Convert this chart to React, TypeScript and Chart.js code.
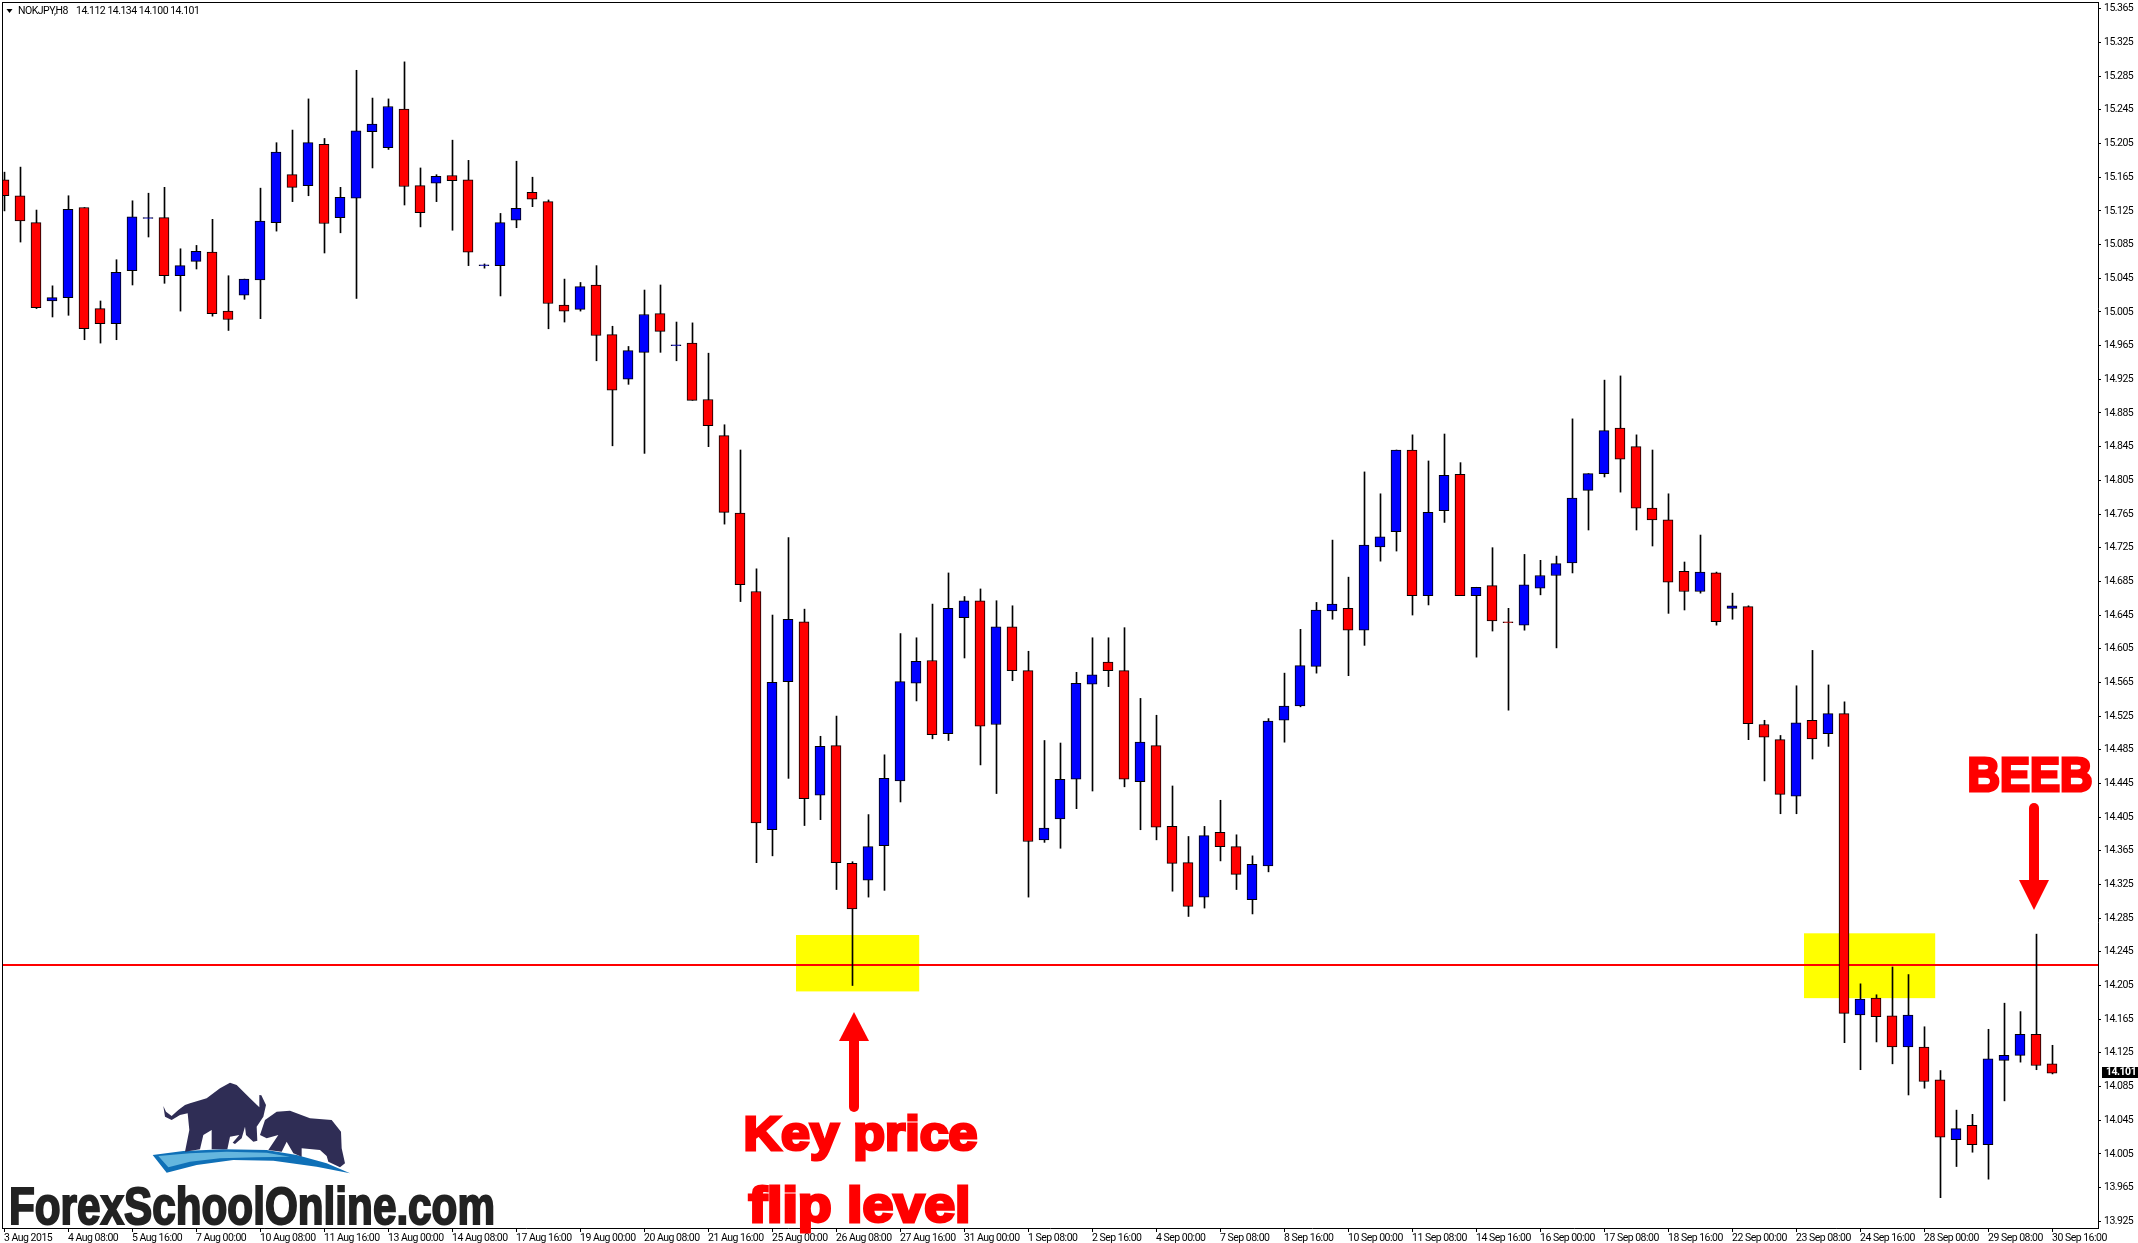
import React, { useEffect, useRef } from "react";
import { Chart, registerables } from "chart.js";

Chart.register(...registerables);

const symbol = "NOKJPY,H8";
const quote = "14.112 14.134 14.100 14.101";

const opens = [15.162,15.143,15.111,15.018,15.022,15.129,15.009,14.991,15.054,15.116,15.117,15.048,15.065,15.076,15.006,15.025,15.043,15.111,15.168,15.155,15.204,15.117,15.140,15.219,15.200,15.246,15.155,15.158,15.167,15.162,15.060,15.060,15.114,15.147,15.136,15.013,15.008,15.037,14.978,14.925,14.957,15.003,14.965,14.968,14.901,14.858,14.766,14.673,14.390,14.566,14.637,14.431,14.490,14.350,14.330,14.371,14.448,14.564,14.591,14.504,14.642,14.662,14.515,14.631,14.579,14.378,14.403,14.450,14.563,14.589,14.579,14.447,14.490,14.394,14.351,14.310,14.387,14.370,14.307,14.347,14.520,14.537,14.584,14.650,14.653,14.627,14.726,14.744,14.841,14.668,14.769,14.812,14.668,14.680,14.637,14.633,14.677,14.692,14.707,14.793,14.813,14.867,14.845,14.772,14.758,14.697,14.673,14.695,14.653,14.655,14.515,14.497,14.430,14.520,14.504,14.528,14.170,14.190,14.169,14.132,14.132,14.093,14.022,14.039,14.016,14.116,14.122,14.147,14.112];
const closes = [15.143,15.113,15.010,15.022,15.127,14.985,14.991,15.052,15.118,15.117,15.048,15.060,15.077,15.003,14.996,15.044,15.113,15.195,15.153,15.206,15.110,15.141,15.220,15.228,15.249,15.154,15.123,15.166,15.161,15.076,15.061,15.111,15.128,15.139,15.015,15.006,15.035,14.977,14.912,14.959,15.002,14.982,14.966,14.900,14.870,14.767,14.681,14.398,14.565,14.640,14.427,14.489,14.351,14.296,14.370,14.451,14.566,14.590,14.503,14.653,14.662,14.513,14.631,14.579,14.376,14.392,14.450,14.564,14.574,14.579,14.450,14.494,14.393,14.350,14.299,14.383,14.370,14.337,14.349,14.519,14.537,14.585,14.651,14.658,14.627,14.728,14.738,14.841,14.668,14.767,14.811,14.668,14.678,14.638,14.636,14.681,14.692,14.706,14.784,14.813,14.864,14.830,14.772,14.758,14.684,14.673,14.696,14.637,14.656,14.516,14.500,14.432,14.517,14.498,14.528,14.172,14.189,14.168,14.132,14.170,14.091,14.025,14.035,14.016,14.118,14.122,14.147,14.110,14.101];
const highs = [15.171,15.177,15.126,15.036,15.143,15.129,15.018,15.067,15.137,15.146,15.153,15.080,15.084,15.115,15.048,15.044,15.152,15.206,15.221,15.258,15.211,15.153,15.292,15.259,15.258,15.302,15.176,15.168,15.209,15.185,15.062,15.122,15.184,15.165,15.138,15.044,15.040,15.060,14.988,14.964,15.031,15.037,14.993,14.992,14.956,14.871,14.841,14.700,14.645,14.737,14.652,14.501,14.525,14.352,14.408,14.479,14.623,14.618,14.658,14.695,14.667,14.676,14.662,14.656,14.602,14.496,14.493,14.577,14.618,14.618,14.630,14.546,14.526,14.442,14.382,14.394,14.425,14.384,14.359,14.522,14.576,14.628,14.660,14.734,14.690,14.815,14.789,14.841,14.859,14.828,14.860,14.826,14.678,14.725,14.653,14.717,14.710,14.715,14.878,14.813,14.924,14.929,14.859,14.841,14.789,14.708,14.740,14.696,14.671,14.656,14.520,14.502,14.561,14.603,14.562,14.542,14.207,14.194,14.227,14.218,14.156,14.104,14.057,14.052,14.153,14.184,14.174,14.266,14.134];
const lows = [15.125,15.088,15.009,14.999,15.001,14.972,14.968,14.972,15.037,15.094,15.039,15.006,15.056,15.000,14.983,15.020,14.997,15.101,15.136,15.143,15.075,15.099,15.021,15.176,15.198,15.132,15.106,15.136,15.102,15.060,15.057,15.024,15.105,15.130,14.985,14.993,15.006,14.947,14.846,14.919,14.837,14.957,14.947,14.900,14.845,14.753,14.661,14.351,14.359,14.451,14.395,14.402,14.319,14.205,14.310,14.318,14.423,14.543,14.498,14.496,14.594,14.467,14.433,14.567,14.310,14.375,14.368,14.415,14.436,14.560,14.441,14.390,14.378,14.317,14.287,14.297,14.353,14.319,14.290,14.340,14.494,14.536,14.576,14.640,14.573,14.609,14.709,14.721,14.645,14.657,14.755,14.668,14.595,14.626,14.532,14.627,14.669,14.606,14.695,14.746,14.809,14.791,14.746,14.727,14.647,14.651,14.671,14.633,14.640,14.497,14.448,14.409,14.409,14.474,14.489,14.137,14.105,14.138,14.112,14.075,14.083,13.953,13.990,14.007,13.975,14.068,14.114,14.105,14.100];

const timeLabels = ["3 Aug 2015","4 Aug 08:00","5 Aug 16:00","7 Aug 00:00","10 Aug 08:00","11 Aug 16:00","13 Aug 00:00","14 Aug 08:00","17 Aug 16:00","19 Aug 00:00","20 Aug 08:00","21 Aug 16:00","25 Aug 00:00","26 Aug 08:00","27 Aug 16:00","31 Aug 00:00","1 Sep 08:00","2 Sep 16:00","4 Sep 00:00","7 Sep 08:00","8 Sep 16:00","10 Sep 00:00","11 Sep 08:00","14 Sep 16:00","16 Sep 00:00","17 Sep 08:00","18 Sep 16:00","22 Sep 00:00","23 Sep 08:00","24 Sep 16:00","28 Sep 00:00","29 Sep 08:00","30 Sep 16:00"];
const priceTicks = [15.365,15.325,15.285,15.245,15.205,15.165,15.125,15.085,15.045,15.005,14.965,14.925,14.885,14.845,14.805,14.765,14.725,14.685,14.645,14.605,14.565,14.525,14.485,14.445,14.405,14.365,14.325,14.285,14.245,14.205,14.165,14.125,14.085,14.045,14.005,13.965,13.925];

const flipLevel = 14.229;
const lastPrice = 14.101;
const zoneA = { from: 49.5, to: 57.2, high: 14.265, low: 14.198 };
const zoneB = { from: 112.5, to: 120.7, high: 14.267, low: 14.190 };

const bull = [[70,108],[78,125],[95,138],[115,120],[135,105],[150,100],[200,85],[240,55],[270,38],[290,45],[330,85],[358,112],[358,75],[364,76],[378,105],[370,140],[350,170],[352,212],[340,215],[318,195],[315,170],[305,205],[285,222],[278,218],[298,195],[270,200],[262,238],[215,238],[215,180],[190,195],[180,238],[135,245],[148,180],[143,130],[120,135],[95,150],[75,140]];
const bear = [[360,195],[375,150],[410,125],[450,122],[510,145],[575,150],[603,185],[605,235],[615,280],[600,292],[565,275],[560,258],[540,240],[485,235],[485,260],[460,250],[440,215],[425,245],[385,240],[415,195],[380,205]];
const swooshOuter = [[38,255],[130,243],[250,238],[380,240],[470,255],[560,280],[630,310],[530,290],[400,272],[280,270],[170,285],[80,308]];
const swooshInner = [[55,258],[150,250],[260,245],[380,248],[450,260],[350,262],[240,265],[150,275],[85,292]];

const uiFont = '"Roboto", "Liberation Sans", sans-serif';
const uiSpacing = "-0.5px";

function fitText(ctx: any, text: string, left: number, right: number, baseline: number, capH: number, color: string, stroke: number) {
  ctx.save();
  ctx.letterSpacing = "0px";
  const size = (capH - stroke) / 0.72;
  ctx.font = `bold ${size}px "Liberation Sans", sans-serif`;
  ctx.textAlign = "left";
  ctx.textBaseline = "alphabetic";
  const w = ctx.measureText(text).width;
  ctx.translate(left + stroke / 2, baseline - stroke / 2);
  ctx.scale((right - left - stroke) / w, 1);
  ctx.fillStyle = color;
  ctx.strokeStyle = color;
  ctx.lineWidth = stroke;
  ctx.lineJoin = "miter";
  ctx.miterLimit = 3;
  ctx.fillText(text, 0, 0);
  ctx.strokeText(text, 0, 0);
  ctx.restore();
}

function poly(ctx: any, pts: number[][], color: string) {
  ctx.beginPath();
  pts.forEach(([a, b], i) => {
    const px = 140 + a / 3;
    const py = 1070 + b / 3;
    if (i === 0) ctx.moveTo(px, py);
    else ctx.lineTo(px, py);
  });
  ctx.closePath();
  ctx.fillStyle = color;
  ctx.fill();
}

function arrow(ctx: any, cx: number, tip: number, base: number, tail: number) {
  ctx.fillStyle = "#ff0000";
  ctx.beginPath();
  ctx.moveTo(cx, tip);
  ctx.lineTo(cx - 15, base);
  ctx.lineTo(cx + 15, base);
  ctx.closePath();
  ctx.fill();
  const top = Math.min(base, tail);
  const h = Math.abs(tail - base);
  ctx.fillRect(cx - 5, top, 10, h);
  ctx.beginPath();
  ctx.arc(cx, tail, 5, 0, Math.PI * 2);
  ctx.fill();
}

const noPadding = (s: any) => {
  s.paddingTop = 0;
  s.paddingBottom = 0;
  s.paddingLeft = 0;
  s.paddingRight = 0;
};

const decorations = {
  id: "decorations",
  beforeDraw(chart: any) {
    const { ctx, width, height } = chart;
    ctx.letterSpacing = uiSpacing;
    ctx.save();
    ctx.fillStyle = "#fff";
    ctx.fillRect(0, 0, width, height);
    ctx.restore();
  },
  beforeDatasetsDraw(chart: any) {
    const { ctx, chartArea, scales } = chart;
    const { x, y } = scales;
    ctx.save();
    ctx.fillStyle = "#ffff00";
    [zoneA, zoneB].forEach((z) => {
      const l = x.getPixelForValue(z.from);
      const r = x.getPixelForValue(z.to);
      const t = y.getPixelForValue(z.high);
      const b = y.getPixelForValue(z.low);
      ctx.fillRect(l, t, r - l, b - t);
    });
    ctx.fillStyle = "#ff0000";
    ctx.fillRect(chartArea.left, Math.round(y.getPixelForValue(flipLevel)) - 1, chartArea.right - chartArea.left, 2);
    ctx.restore();
  },
  afterDraw(chart: any) {
    const { ctx, chartArea, scales } = chart;
    const { y } = scales;
    ctx.save();
    // frame
    ctx.fillStyle = "#000";
    ctx.fillRect(chartArea.left, chartArea.top, chartArea.right - chartArea.left + 1, 1);
    ctx.fillRect(chartArea.left, chartArea.top, 1, chartArea.bottom - chartArea.top + 1);
    // header
    ctx.beginPath();
    ctx.moveTo(6.5, 9);
    ctx.lineTo(12.5, 9);
    ctx.lineTo(9.5, 13);
    ctx.closePath();
    ctx.fill();
    ctx.font = `10.5px ${uiFont}`;
    ctx.textBaseline = "middle";
    ctx.textAlign = "left";
    ctx.fillText(symbol, 18, 11);
    ctx.fillText(quote, 76, 11);
    // current price tag
    const py = y.getPixelForValue(lastPrice);
    ctx.fillStyle = "#000";
    ctx.fillRect(2102, Math.round(py) - 6, 36, 11);
    ctx.fillStyle = "#fff";
    ctx.font = `bold 10.5px ${uiFont}`;
    ctx.fillText(lastPrice.toFixed(3), 2106, Math.round(py) - 0.5);
    // arrows
    arrow(ctx, 854, 1012, 1041, 1107);
    arrow(ctx, 2034, 910, 880, 808);
    // notes
    fitText(ctx, "BEEB", 1966, 2094, 792, 37, "#ff0000", 3);
    fitText(ctx, "Key price", 742, 979, 1151, 38, "#ff0000", 3);
    fitText(ctx, "flip level", 747, 972, 1223, 39, "#ff0000", 3);
    // logo
    poly(ctx, swooshOuter, "#0f70b7");
    poly(ctx, swooshInner, "#64b6de");
    poly(ctx, bull, "#2f2d55");
    poly(ctx, bear, "#2f2d55");
    fitText(ctx, "ForexSchoolOnline.com", 8, 496, 1225, 39, "#222222", 2);
    ctx.restore();
  },
};

export default function App() {
  const ref = useRef<HTMLCanvasElement | null>(null);
  useEffect(() => {
    document.body.style.margin = "0";
    document.body.style.background = "#fff";
    const idx = opens.map((_, i) => i);
    const chart = new Chart(ref.current as HTMLCanvasElement, {
      type: "bar",
      data: {
        datasets: [
          {
            label: "Body",
            order: 1,
            grouped: false,
            barThickness: 10,
            borderWidth: 1,
            borderColor: "#000000",
            borderSkipped: false,
            backgroundColor: idx.map((i) => (closes[i] < opens[i] ? "#ff0000" : "#0000ff")),
            data: idx.map((i) => ({ x: i, y: [opens[i], closes[i]] })),
          },
          {
            label: "Range",
            order: 2,
            grouped: false,
            barThickness: 1,
            borderWidth: 0,
            backgroundColor: "#000000",
            data: idx.map((i) => ({ x: i + 0.03125, y: [lows[i], highs[i]] })),
          },
        ],
      } as any,
      options: {
        responsive: false,
        devicePixelRatio: 1,
        animation: false,
        events: [],
        layout: { padding: { left: 2, top: 2, right: 0, bottom: 0 } },
        plugins: { legend: { display: false }, tooltip: { enabled: false }, title: { display: false } },
        scales: {
          x: {
            type: "linear",
            position: "bottom",
            offset: false,
            min: -0.125,
            max: 130.875,
            afterBuildTicks: (s: any) => {
              s.ticks = timeLabels.map((_, i) => ({ value: i * 4 }));
            },
            afterFit: (s: any) => {
              s.height = 15;
              noPadding(s);
            },
            border: { display: true, color: "#000", width: 1 },
            grid: { display: true, offset: false, drawOnChartArea: false, drawTicks: true, tickLength: 4, color: "#000" },
            ticks: {
              autoSkip: false,
              maxRotation: 0,
              minRotation: 0,
              align: "start",
              padding: 0,
              color: "#000",
              font: { family: uiFont, size: 10.5 },
              callback: (_v: any, i: number) => timeLabels[i],
            },
          },
          y: {
            type: "linear",
            position: "right",
            min: 13.917,
            max: 15.3731,
            afterBuildTicks: (s: any) => {
              s.ticks = priceTicks.map((value) => ({ value }));
            },
            afterFit: (s: any) => {
              s.width = 40;
              noPadding(s);
            },
            border: { display: true, color: "#000", width: 1 },
            grid: { display: true, drawOnChartArea: false, drawTicks: true, tickLength: 3, color: "#000" },
            ticks: {
              autoSkip: false,
              padding: 3,
              color: "#000",
              font: { family: uiFont, size: 10.5 },
              callback: (v: any) => Number(v).toFixed(3),
            },
          },
        },
      } as any,
      plugins: [decorations],
    });
    return () => chart.destroy();
  }, []);
  return (
    <div style={{ position: "absolute", left: 0, top: 0, width: 2138, height: 1243 }}>
      <canvas ref={ref} width={2138} height={1243} style={{ display: "block" }} />
    </div>
  );
}
